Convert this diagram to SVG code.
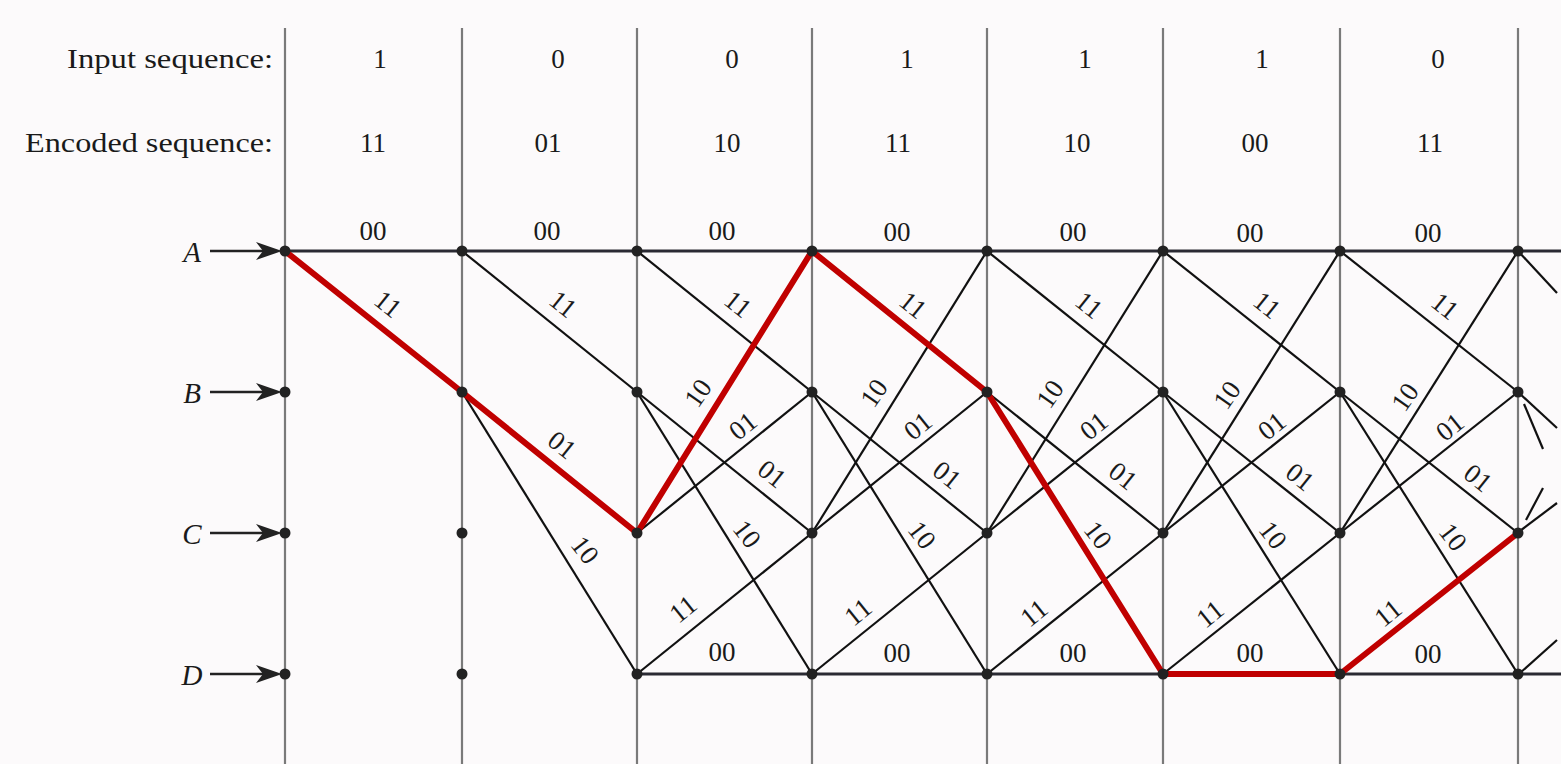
<svg xmlns="http://www.w3.org/2000/svg" width="1561" height="764" viewBox="0 0 1561 764">
<style>
.txt{font-family:"Liberation Serif","Times New Roman",serif;font-size:27px;fill:#1a1a1a}
.lb{font-family:"Liberation Serif","Times New Roman",serif;font-size:27px;fill:#1a1a1a;text-anchor:middle}
.st{font-family:"Liberation Serif","Times New Roman",serif;font-size:29px;font-style:italic;fill:#1a1a1a;text-anchor:middle}
.vl{stroke:#7a7a7a;stroke-width:2.2;fill:none}
.hl{stroke:#2a2a33;stroke-width:3;fill:none}
.dg{stroke:#111;stroke-width:2.2;fill:none}
.arr{stroke:#222;stroke-width:2.5;fill:none}
.dot{fill:#222}
.red{stroke:#c00000;stroke-width:6;fill:none;stroke-linejoin:round;stroke-linecap:round}
</style>
<defs>
<path id="ah" d="M0,0 L-26,-9 L-19,0 L-26,9 Z" fill="#222"/>
</defs>
<rect width="1561" height="764" fill="#fcfafb"/>

<g id="verticals">
<line class="vl" x1="285" y1="28" x2="285" y2="764"/>
<line class="vl" x1="462" y1="28" x2="462" y2="764"/>
<line class="vl" x1="637" y1="28" x2="637" y2="764"/>
<line class="vl" x1="812" y1="28" x2="812" y2="764"/>
<line class="vl" x1="987" y1="28" x2="987" y2="764"/>
<line class="vl" x1="1163" y1="28" x2="1163" y2="764"/>
<line class="vl" x1="1340" y1="28" x2="1340" y2="764"/>
<line class="vl" x1="1518" y1="28" x2="1518" y2="764"/>
</g>

<g id="header">
<text class="txt" x="273" y="68" text-anchor="end" textLength="206" lengthAdjust="spacingAndGlyphs">Input sequence:</text>
<text class="txt" x="273" y="152" text-anchor="end" textLength="248" lengthAdjust="spacingAndGlyphs">Encoded sequence:</text>
<text class="lb" x="380" y="68">1</text>
<text class="lb" x="558" y="68">0</text>
<text class="lb" x="732" y="68">0</text>
<text class="lb" x="907" y="68">1</text>
<text class="lb" x="1085" y="68">1</text>
<text class="lb" x="1262" y="68">1</text>
<text class="lb" x="1438" y="68">0</text>
<text class="lb" x="373" y="152">11</text>
<text class="lb" x="548" y="152">01</text>
<text class="lb" x="727" y="152">10</text>
<text class="lb" x="898" y="152">11</text>
<text class="lb" x="1077" y="152">10</text>
<text class="lb" x="1255" y="152">00</text>
<text class="lb" x="1430" y="152">11</text>
</g>

<g id="connectors">
<!-- horizontal A and D lines -->
<line class="hl" x1="285" y1="251" x2="1561" y2="251"/>
<line class="hl" x1="637" y1="674" x2="1561" y2="674"/>
<!-- column 2 -->
<line class="dg" x1="462" y1="251" x2="637" y2="392"/>
<line class="dg" x1="462" y1="392" x2="637" y2="674"/>
<!-- column 3 -->
<line class="dg" x1="637" y1="251" x2="812" y2="392"/>
<line class="dg" x1="637" y1="392" x2="812" y2="533"/>
<line class="dg" x1="637" y1="392" x2="812" y2="674"/>
<line class="dg" x1="637" y1="533" x2="812" y2="392"/>
<line class="dg" x1="637" y1="674" x2="812" y2="533"/>
<!-- column 4 -->
<line class="dg" x1="812" y1="251" x2="987" y2="392"/>
<line class="dg" x1="812" y1="392" x2="987" y2="533"/>
<line class="dg" x1="812" y1="392" x2="987" y2="674"/>
<line class="dg" x1="812" y1="533" x2="987" y2="251"/>
<line class="dg" x1="812" y1="533" x2="987" y2="392"/>
<line class="dg" x1="812" y1="674" x2="987" y2="533"/>
<!-- column 5 -->
<line class="dg" x1="987" y1="251" x2="1163" y2="392"/>
<line class="dg" x1="987" y1="392" x2="1163" y2="533"/>
<line class="dg" x1="987" y1="392" x2="1163" y2="674"/>
<line class="dg" x1="987" y1="533" x2="1163" y2="251"/>
<line class="dg" x1="987" y1="533" x2="1163" y2="392"/>
<line class="dg" x1="987" y1="674" x2="1163" y2="533"/>
<!-- column 6 -->
<line class="dg" x1="1163" y1="251" x2="1340" y2="392"/>
<line class="dg" x1="1163" y1="392" x2="1340" y2="533"/>
<line class="dg" x1="1163" y1="392" x2="1340" y2="674"/>
<line class="dg" x1="1163" y1="533" x2="1340" y2="251"/>
<line class="dg" x1="1163" y1="533" x2="1340" y2="392"/>
<line class="dg" x1="1163" y1="674" x2="1340" y2="533"/>
<!-- column 7 -->
<line class="dg" x1="1340" y1="251" x2="1518" y2="392"/>
<line class="dg" x1="1340" y1="392" x2="1518" y2="533"/>
<line class="dg" x1="1340" y1="392" x2="1518" y2="674"/>
<line class="dg" x1="1340" y1="533" x2="1518" y2="251"/>
<line class="dg" x1="1340" y1="533" x2="1518" y2="392"/>
<!-- stubs beyond last column -->
<line class="dg" x1="1518" y1="251" x2="1557" y2="293"/>
<line class="dg" x1="1518" y1="392" x2="1557" y2="428"/>
<line class="dg" x1="1524" y1="404" x2="1543" y2="449"/>
<line class="dg" x1="1526" y1="520" x2="1543" y2="488"/>
<line class="dg" x1="1520" y1="531" x2="1557" y2="503"/>
<line class="dg" x1="1520" y1="673" x2="1557" y2="640"/>
<!-- survivor path -->
<polyline class="red" points="285,251 462,392 637,533 812,251 987,392 1163,674 1340,674 1518,533"/>
</g>

<g id="labels">
<!-- column 1 -->
<text class="lb" x="373" y="240">00</text>
<text class="lb" transform="translate(388,304) rotate(38.6)" y="9">11</text>
<!-- column 2 -->
<text class="lb" x="547" y="240">00</text>
<text class="lb" transform="translate(563,304) rotate(38.6)" y="9">11</text>
<text class="lb" transform="translate(562,445) rotate(38.6)" y="9">01</text>
<text class="lb" transform="translate(585,550) rotate(52)" y="9">10</text>
<!-- column 3 -->
<text class="lb" x="722" y="240">00</text>
<text class="lb" transform="translate(738,304) rotate(38.6)" y="9">11</text>
<text class="lb" transform="translate(698,393) rotate(-55)" y="9">10</text>
<text class="lb" transform="translate(743,426) rotate(-38.6)" y="9">01</text>
<text class="lb" transform="translate(772,474) rotate(38.6)" y="9">01</text>
<text class="lb" transform="translate(747,534) rotate(52)" y="9">10</text>
<text class="lb" transform="translate(683,609) rotate(-38.6)" y="9">11</text>
<text class="lb" x="722" y="661">00</text>
<!-- column 4 -->
<text class="lb" x="897" y="241">00</text>
<text class="lb" transform="translate(913,305) rotate(38.6)" y="9">11</text>
<text class="lb" transform="translate(874,393) rotate(-55)" y="9">10</text>
<text class="lb" transform="translate(918,426) rotate(-38.6)" y="9">01</text>
<text class="lb" transform="translate(947,475) rotate(38.6)" y="9">01</text>
<text class="lb" transform="translate(922,535) rotate(52)" y="9">10</text>
<text class="lb" transform="translate(858,612) rotate(-38.6)" y="9">11</text>
<text class="lb" x="897" y="662">00</text>
<!-- column 5 -->
<text class="lb" x="1073" y="241">00</text>
<text class="lb" transform="translate(1089,305) rotate(38.6)" y="9">11</text>
<text class="lb" transform="translate(1050,394) rotate(-55)" y="9">10</text>
<text class="lb" transform="translate(1094,426) rotate(-38.6)" y="9">01</text>
<text class="lb" transform="translate(1123,476) rotate(38.6)" y="9">01</text>
<text class="lb" transform="translate(1098,535) rotate(52)" y="9">10</text>
<text class="lb" transform="translate(1034,613) rotate(-38.6)" y="9">11</text>
<text class="lb" x="1073" y="662">00</text>
<!-- column 6 -->
<text class="lb" x="1250" y="242">00</text>
<text class="lb" transform="translate(1267,305) rotate(38.6)" y="9">11</text>
<text class="lb" transform="translate(1227,395) rotate(-55)" y="9">10</text>
<text class="lb" transform="translate(1272,426) rotate(-38.6)" y="9">01</text>
<text class="lb" transform="translate(1300,477) rotate(38.6)" y="9">01</text>
<text class="lb" transform="translate(1273,535) rotate(52)" y="9">10</text>
<text class="lb" transform="translate(1210,614) rotate(-38.6)" y="9">11</text>
<text class="lb" x="1250" y="662">00</text>
<!-- column 7 -->
<text class="lb" x="1428" y="242">00</text>
<text class="lb" transform="translate(1445,306) rotate(38.6)" y="9">11</text>
<text class="lb" transform="translate(1405,397) rotate(-55)" y="9">10</text>
<text class="lb" transform="translate(1450,427) rotate(-38.6)" y="9">01</text>
<text class="lb" transform="translate(1478,478) rotate(38.6)" y="9">01</text>
<text class="lb" transform="translate(1453,537) rotate(52)" y="9">10</text>
<text class="lb" transform="translate(1388,613) rotate(-38.6)" y="9">11</text>
<text class="lb" x="1428" y="663">00</text>
</g>

<g id="state-A">
<text class="st" x="192" y="262">A</text>
<line class="arr" x1="210" y1="251" x2="268" y2="251"/>
<use href="#ah" x="282" y="251"/>
</g>
<g id="state-B">
<text class="st" x="192" y="403">B</text>
<line class="arr" x1="210" y1="392" x2="268" y2="392"/>
<use href="#ah" x="282" y="392"/>
</g>
<g id="state-C">
<text class="st" x="192" y="544">C</text>
<line class="arr" x1="210" y1="533" x2="268" y2="533"/>
<use href="#ah" x="282" y="533"/>
</g>
<g id="state-D">
<text class="st" x="192" y="685">D</text>
<line class="arr" x1="210" y1="674" x2="268" y2="674"/>
<use href="#ah" x="282" y="674"/>
</g>

<g id="nodes">
<circle class="dot" cx="285" cy="251" r="5.5"/><circle class="dot" cx="285" cy="392" r="5.5"/><circle class="dot" cx="285" cy="533" r="5.5"/><circle class="dot" cx="285" cy="674" r="5.5"/>
<circle class="dot" cx="462" cy="251" r="5.5"/><circle class="dot" cx="462" cy="392" r="5.5"/><circle class="dot" cx="462" cy="533" r="5.5"/><circle class="dot" cx="462" cy="674" r="5.5"/>
<circle class="dot" cx="637" cy="251" r="5.5"/><circle class="dot" cx="637" cy="392" r="5.5"/><circle class="dot" cx="637" cy="533" r="5.5"/><circle class="dot" cx="637" cy="674" r="5.5"/>
<circle class="dot" cx="812" cy="251" r="5.5"/><circle class="dot" cx="812" cy="392" r="5.5"/><circle class="dot" cx="812" cy="533" r="5.5"/><circle class="dot" cx="812" cy="674" r="5.5"/>
<circle class="dot" cx="987" cy="251" r="5.5"/><circle class="dot" cx="987" cy="392" r="5.5"/><circle class="dot" cx="987" cy="533" r="5.5"/><circle class="dot" cx="987" cy="674" r="5.5"/>
<circle class="dot" cx="1163" cy="251" r="5.5"/><circle class="dot" cx="1163" cy="392" r="5.5"/><circle class="dot" cx="1163" cy="533" r="5.5"/><circle class="dot" cx="1163" cy="674" r="5.5"/>
<circle class="dot" cx="1340" cy="251" r="5.5"/><circle class="dot" cx="1340" cy="392" r="5.5"/><circle class="dot" cx="1340" cy="533" r="5.5"/><circle class="dot" cx="1340" cy="674" r="5.5"/>
<circle class="dot" cx="1518" cy="251" r="5.5"/><circle class="dot" cx="1518" cy="392" r="5.5"/><circle class="dot" cx="1518" cy="533" r="5.5"/><circle class="dot" cx="1518" cy="674" r="5.5"/>
</g>
</svg>
